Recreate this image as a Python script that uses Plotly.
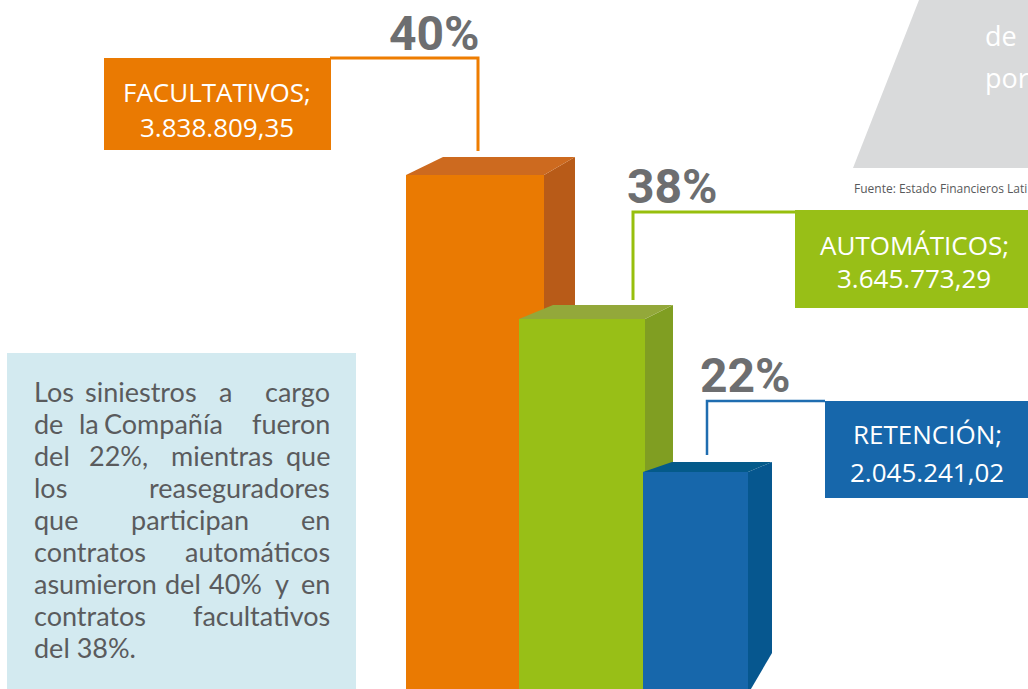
import plotly.graph_objects as go

# Data
categories = ["FACULTATIVOS", "AUTOMÁTICOS", "RETENCIÓN"]
amounts = [3838809.35, 3645773.29, 2045241.02]
shares = [40, 38, 22]
bar_heights = [514, 370, 217]  # drawn height of each front face (axis units)

note_lines = [
    ["Los", "siniestros", "a", "cargo"],
    ["de", "la", "Compañía", "fueron"],
    ["del", "22%,", "mientras", "que"],
    ["los", "reaseguradores"],
    ["que", "participan", "en"],
    ["contratos", "automáticos"],
    ["asumieron", "del", "40%", "y", "en"],
    ["contratos", "facultativos"],
    ["del 38%."],
]
source_text = "Fuente: Estado Financieros Lati"
corner_words = ["de", "por"]

# Canvas in pixels; y axis runs upward from the bottom edge
W, H = 1028, 689


def py(y):
    return H - y


def money(v):
    s = f"{v:,.2f}"
    return s.replace(",", "X").replace(".", ",").replace("X", ".")


# Styles / geometry
front_colors = ["#EA7A02", "#98BF17", "#1767AB"]
top_colors = ["#CD6A1F", "#93A83A", "#045A8A"]
side_colors = ["#B85B18", "#809E22", "#06578F"]
line_colors = ["#EE7D00", "#97BF0D", "#1F6DB0"]

bar_left = [406, 519, 643]
bar_right = [544, 645, 748]
depth_left = [37, 34, 29]
depth_right = [31, 28, 24]
depth_up = [18, 14, 10]
side_floor = [-40, -40, 36]
floor = -5

fig = go.Figure()

for i in range(len(categories)):
    h = bar_heights[i]
    x0, x1 = bar_left[i], bar_right[i]
    dl, dr, du = depth_left[i], depth_right[i], depth_up[i]
    faces = [
        ([x0, x0, x1, x1, x0], [floor, h, h, floor, floor], front_colors[i]),
        ([x1, x1 + dr, x1 + dr, x1, x1], [h, h + du, side_floor[i], floor, h], side_colors[i]),
        ([x0, x0 + dl, x1 + dr, x1, x0], [h, h + du, h + du, h, h], top_colors[i]),
    ]
    for xs, ys, col in faces:
        fig.add_trace(
            go.Scatter(
                x=xs, y=ys, mode="lines", fill="toself", fillcolor=col,
                line=dict(width=0, color=col), hoverinfo="skip",
                name=categories[i],
            )
        )

shapes = []

# leader lines (pixel coords)
leaders = [
    [(330, 58), (478, 58), (478, 151)],
    [(795, 212), (633, 212), (633, 300)],
    [(825, 401), (707, 401), (707, 455)],
]
lw = [3, 3, 2.5]
for i, pts in enumerate(leaders):
    path = "M " + " L ".join(f"{x},{py(y)}" for x, y in pts)
    shapes.append(dict(type="path", path=path, xref="x", yref="y",
                       line=dict(color=line_colors[i], width=lw[i])))

# label boxes
boxes = [(104, 58, 331, 150), (795, 210, 1040, 308), (825, 401, 1040, 498)]
for i, (a, b, c, d) in enumerate(boxes):
    shapes.append(dict(type="rect", xref="x", yref="y", x0=a, x1=c, y0=py(d), y1=py(b),
                       fillcolor=front_colors[i], line=dict(width=0)))

# note box and grey corner panel
shapes.append(dict(type="rect", xref="x", yref="y", x0=7, x1=356, y0=py(700), y1=py(353),
                   fillcolor="#D3EAF0", line=dict(width=0)))
shapes.append(dict(type="path", xref="x", yref="y",
                   path=f"M 921,{py(-5)} L 853,{py(168)} L 1040,{py(168)} L 1040,{py(-5)} Z",
                   fillcolor="#D9DADB", line=dict(width=0)))

ann = []
label_font = dict(family="Open Sans, Noto Sans, sans-serif", size=26, color="white")
name_pos = [(217, 92), (914, 245), (927, 434)]
amount_pos = [(217, 127), (914, 278), (927, 472)]
pct_pos = [(434, 33), (672, 186), (745, 375)]
for i, cat in enumerate(categories):
    ann.append(dict(x=name_pos[i][0], y=py(name_pos[i][1]), text=cat + ";", font=label_font))
    ann.append(dict(x=amount_pos[i][0], y=py(amount_pos[i][1]), text=money(amounts[i]),
                    font=label_font))
    ann.append(dict(x=pct_pos[i][0], y=py(pct_pos[i][1]), text=f"<b>{shares[i]}%</b>",
                    font=dict(family="Liberation Sans Narrow, Roboto, sans-serif",
                              size=48, color="#6D6E70")))

# justified note text: first word flush left, last flush right, inner words placed
inner_place = {
    0: [(141, "center"), (225, "center")],
    1: [(77, "left"), (102, "left")],
    2: [(118, "center"), (222, "center")],
    4: [(190, "center")],
    6: [(163, "left"), (207, "left"), (282, "center")],
}
body_font = dict(family="Lato, Open Sans, sans-serif", size=27, color="#5A5B5D")
left_x, right_x = 32, 332
for r, words in enumerate(note_lines):
    y = py(391 + 32 * r)
    ann.append(dict(x=left_x, y=y, text=words[0], xanchor="left", font=body_font))
    if len(words) > 1:
        ann.append(dict(x=right_x, y=y, text=words[-1], xanchor="right", font=body_font))
    for w, (wx, anchor) in zip(words[1:-1], inner_place.get(r, [])):
        ann.append(dict(x=wx, y=y, text=w, xanchor=anchor, font=body_font))

for k, w in enumerate(corner_words):
    ann.append(dict(x=983, y=py(35 + 42 * k), text=w, xanchor="left",
                    font=dict(family="Open Sans, sans-serif", size=27, color="white")))

ann.append(dict(x=852, y=py(188), text=source_text, xanchor="left",
                font=dict(family="Open Sans, sans-serif", size=12, color="#58595B")))

for a in ann:
    a.setdefault("xref", "x")
    a.setdefault("yref", "y")
    a.setdefault("showarrow", False)
    a.setdefault("yanchor", "middle")

fig.update_layout(
    width=W,
    height=H,
    margin=dict(l=0, r=0, t=0, b=0),
    showlegend=False,
    plot_bgcolor="white",
    paper_bgcolor="white",
    xaxis=dict(range=[0, W], visible=False, fixedrange=True),
    yaxis=dict(range=[0, H], visible=False, fixedrange=True),
    shapes=shapes,
    annotations=ann,
)

fig.write_html("out.html", config={"displayModeBar": False},
               post_script="document.body.style.margin='0';")
